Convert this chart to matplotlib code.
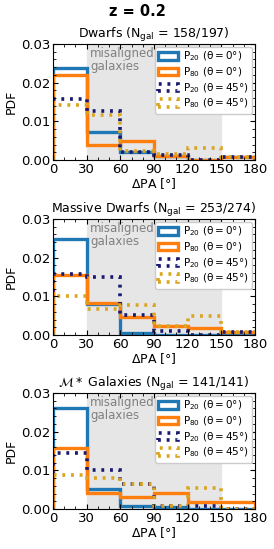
import matplotlib
matplotlib.use('Agg')
import numpy as np
import matplotlib.pyplot as plt
import matplotlib.ticker as ticker
from matplotlib.patches import Patch

edges = [0, 30, 60, 90, 120, 150, 180]

titles = [r'Dwarfs ($\mathrm{N_{gal}}$ = 158/197)',
          r'Massive Dwarfs ($\mathrm{N_{gal}}$ = 253/274)',
          r'$\mathcal{M}*$ Galaxies ($\mathrm{N_{gal}}$ = 141/141)']

# PDF per 30 deg bin
p20_0 = [[0.0239, 0.0072, 0.0020, 0.0011, 0.0000, 0.0008],
         [0.0248, 0.0079, 0.0005, 0.0000, 0.0000, 0.0005],
         [0.0262, 0.0052, 0.0009, 0.0004, 0.0000, 0.0000]]
p80_0 = [[0.0219, 0.0039, 0.0050, 0.0010, 0.0000, 0.0008],
         [0.0156, 0.0084, 0.0046, 0.0022, 0.0019, 0.0009],
         [0.0157, 0.0041, 0.0030, 0.0041, 0.0017, 0.0017]]
p20_45 = [[0.0158, 0.0126, 0.0020, 0.0014, 0.0000, 0.0008],
          [0.0157, 0.0151, 0.0053, 0.0011, 0.0000, 0.0009],
          [0.0146, 0.0101, 0.0065, 0.0009, 0.0009, 0.0000]]
p80_45 = [[0.0141, 0.0117, 0.0023, 0.0016, 0.0032, 0.0008],
          [0.0102, 0.0067, 0.0078, 0.0023, 0.0048, 0.0009],
          [0.0088, 0.0080, 0.0065, 0.0009, 0.0054, 0.0000]]

labels = [r'P$_{20}$ ($\mathrm{\theta=0°}$)', r'P$_{80}$ ($\mathrm{\theta=0°}$)',
          r'P$_{20}$ ($\mathrm{\theta=45°}$)', r'P$_{80}$ ($\mathrm{\theta=45°}$)']
colors = ['#1f77b4', '#ff7f0e', '#191970', '#daa520']

plt.rcParams.update({'font.size': 9})

fig = plt.figure(figsize=(2.74, 5.49), dpi=100)
fig.suptitle('z = 0.2', fontweight='bold', fontsize=10.5, y=0.993)

bottoms = [549 - 160, 549 - 335, 549 - 509]
dots = (0, (0.8, 1.6))
styles = ['-', '-', dots, dots]
for i in range(3):
    ax = fig.add_axes([53 / 274, bottoms[i] / 549, 202 / 274, 116 / 549])
    ax.axvspan(30, 150, color='#e6e6e6', zorder=0)
    ax.text(33, 0.0293, 'misaligned\ngalaxies', color='gray', fontsize=8.5,
            va='top', ha='left', linespacing=1.0)

    series = [p20_0[i], p80_0[i], p20_45[i], p80_45[i]]
    for vals, c, s in zip(series, colors, styles):
        ax.stairs(vals, edges, color=c, lw=2.4 if s == '-' else 2.6, ls=s)

    handles = [Patch(facecolor='none', edgecolor=c, lw=2.4 if s == '-' else 2.6, ls=s, label=l)
               for c, s, l in zip(colors, styles, labels)]

    ax.set_xlim(0, 180)
    ax.set_ylim(0, 0.03)
    ax.set_title(titles[i], fontsize=9, pad=3.5)
    ax.set_xlabel(r'$\Delta$PA [°]', labelpad=0)
    ax.set_ylabel('PDF', labelpad=2)
    ax.xaxis.set_major_locator(ticker.MultipleLocator(30))
    ax.xaxis.set_minor_locator(ticker.MultipleLocator(10))
    ax.yaxis.set_major_locator(ticker.MultipleLocator(0.01))
    ax.yaxis.set_minor_locator(ticker.MultipleLocator(0.002))
    ax.tick_params(which='both', direction='in', top=True, right=True, labelsize=9.5)
    ax.tick_params(which='major', length=3.5, pad=2)
    ax.tick_params(which='minor', length=2)
    ax.legend(handles=handles, loc='upper right', fontsize=7.5, handlelength=1.9,
              handleheight=0.7, handletextpad=0.5, borderpad=0.3, labelspacing=0.2,
              framealpha=1, fancybox=True, borderaxespad=0.25)

fig.savefig('out.png', dpi=100)
